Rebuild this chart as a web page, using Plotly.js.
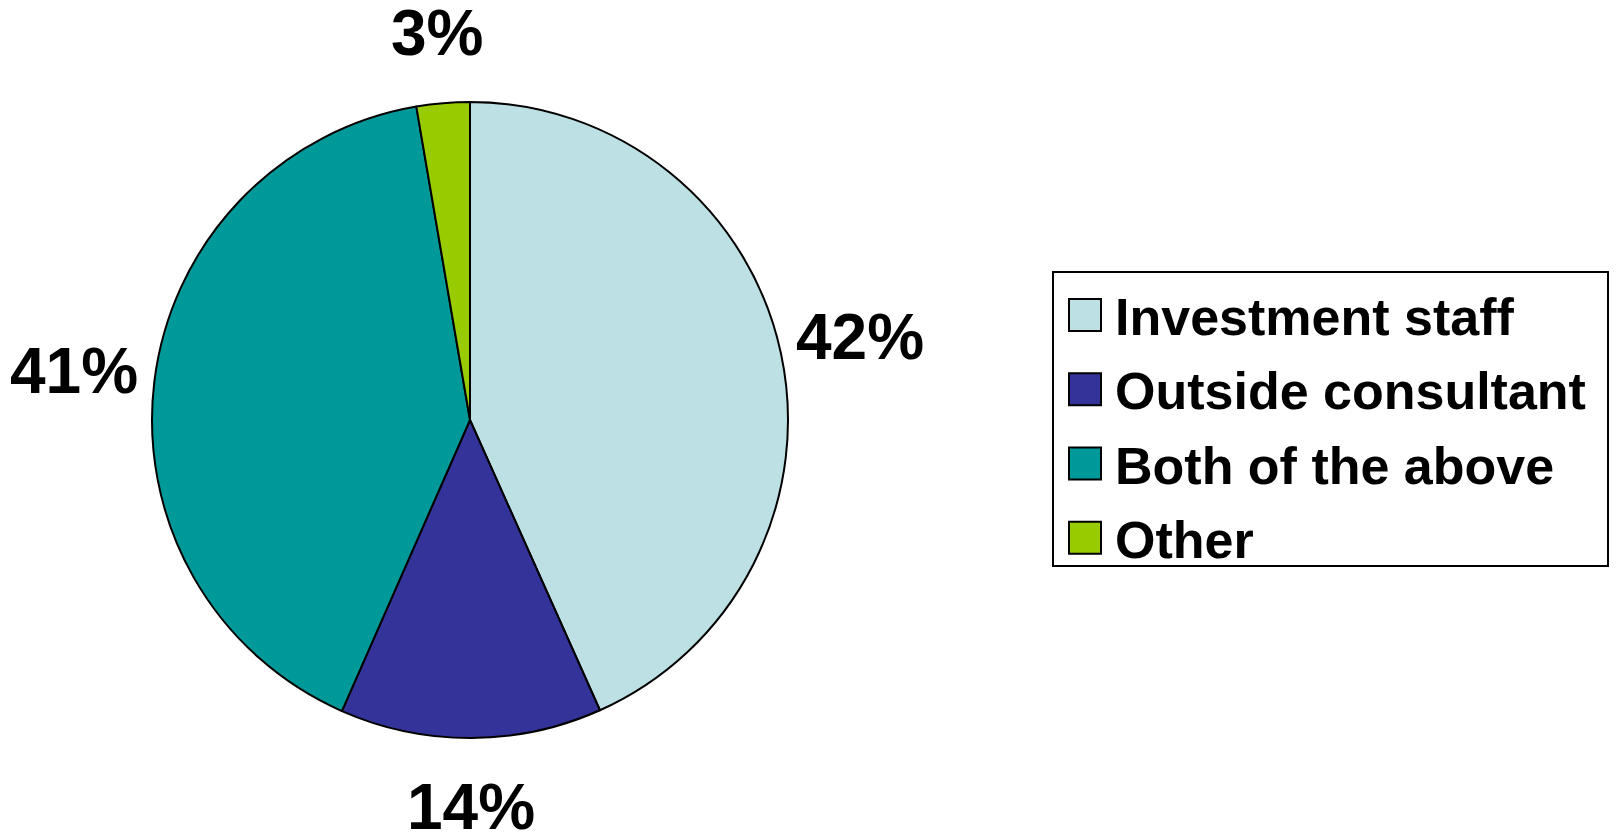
<!DOCTYPE html>
<html>
<head>
<meta charset="utf-8">
<script src="https://cdn.plot.ly/plotly-3.0.1.min.js"></script>
<style>
html,body{margin:0;padding:0;background:#fff;}
#chart{width:1616px;height:835px;}
</style>
</head>
<body>
<div id="chart"></div>
<script>
// Data
const categories = ["Investment staff", "Outside consultant", "Both of the above", "Other"];
const sliceShares = [43.3, 13.3, 40.7, 2.7];          // slice sizes as drawn
const labelTexts = ["42%", "14%", "41%", "3%"];        // printed data labels
const sliceColors = ["#BCE0E3", "#333399", "#009999", "#99CC00"];

const W = 1616, H = 835;
const pieDomain = {x: [0.09406, 0.48762], y: [0.11617, 0.87784]};
const labelFont = {family: "Liberation Sans, Arial, sans-serif", size: 64, color: "#000000", weight: "bold"};

const trace = {
  type: "pie",
  labels: categories,
  values: sliceShares,
  text: labelTexts,
  textinfo: "none",
  sort: false,
  direction: "clockwise",
  rotation: 0,
  marker: {colors: sliceColors, line: {color: "#000000", width: 2}},
  domain: pieDomain,
  hoverinfo: "label+text",
  showlegend: true
};

// Data labels placed at each slice's mid-angle, just outside the pie
const cxPx = (pieDomain.x[0] + pieDomain.x[1]) / 2 * W;
const cyPx = (1 - (pieDomain.y[0] + pieDomain.y[1]) / 2) * H;
const rPx = Math.min((pieDomain.x[1] - pieDomain.x[0]) * W, (pieDomain.y[1] - pieDomain.y[0]) * H) / 2;
const total = sliceShares.reduce((a, b) => a + b, 0);
let cum = 0;
const annotations = sliceShares.map((v, i) => {
  const mid = (cum + v / 2) / total * 2 * Math.PI;
  cum += v;
  const labelR = rPx * 1.217 + 12 * Math.abs(Math.sin(mid));
  const xPx = cxPx + labelR * Math.sin(mid);
  const yPx = cyPx - labelR * Math.cos(mid);
  return {
    xref: "paper", yref: "paper",
    x: xPx / W, y: 1 - yPx / H,
    xanchor: "center", yanchor: "middle",
    text: labelTexts[i], showarrow: false, font: labelFont
  };
});

const layout = {
  width: W, height: H,
  margin: {l: 0, r: 0, t: 0, b: 0},
  paper_bgcolor: "#ffffff",
  showlegend: true,
  annotations: annotations,
  legend: {
    x: 0.651, y: 0.675, xanchor: "left", yanchor: "top",
    bordercolor: "#000000", borderwidth: 2, bgcolor: "#ffffff",
    font: {family: "Liberation Sans, Arial, sans-serif", size: 52, color: "#000000", weight: "bold"}
  }
};

Plotly.newPlot("chart", [trace], layout, {staticPlot: true}).then(gd => {
  // Enlarge legend swatches and spacing to match the reference legend box
  const leg = gd.querySelector(".legend");
  if (!leg) return;
  const bg = leg.querySelector("rect.bg");
  if (bg) { bg.setAttribute("width", 555); bg.setAttribute("height", 294); }
  const sb = leg.querySelector(".scrollbox");
  if (sb) {
    const cp = sb.getAttribute("clip-path");
    const idm = cp && cp.match(/#([^)'"]+)/);
    if (idm) {
      const el = document.getElementById(idm[1]);
      if (el) el.querySelectorAll("rect").forEach(r => { r.setAttribute("width", 700); r.setAttribute("height", 500); });
    }
  }
  const boxTop = bg ? bg.getBoundingClientRect().top : 271;
  const items = leg.querySelectorAll("g.traces");
  items.forEach((g, i) => {
    g.querySelectorAll("g.legendpoints path").forEach(p => {
      p.setAttribute("d", "M16,16H-16V-16H16Z");
      p.setAttribute("transform", "translate(31,0)");
      p.style.strokeWidth = "2px";
    });
    const t = g.querySelector("text.legendtext");
    if (t) t.setAttribute("x", 61);
    const tr = g.getAttribute("transform") || "";
    const m = tr.match(/translate\(\s*([-\d.e]+)[ ,]+([-\d.e]+)\s*\)/);
    const x = m ? parseFloat(m[1]) : 0;
    const y = m ? parseFloat(m[2]) : 0;
    const p = g.querySelector("g.legendpoints path");
    if (p) {
      const bb = p.getBoundingClientRect();
      const cur = (bb.top + bb.bottom) / 2;
      const want = boxTop + 42.5 + i * 74.3;
      g.setAttribute("transform", "translate(" + x + "," + (y + want - cur) + ")");
    }
  });
});
</script>
</body>
</html>
